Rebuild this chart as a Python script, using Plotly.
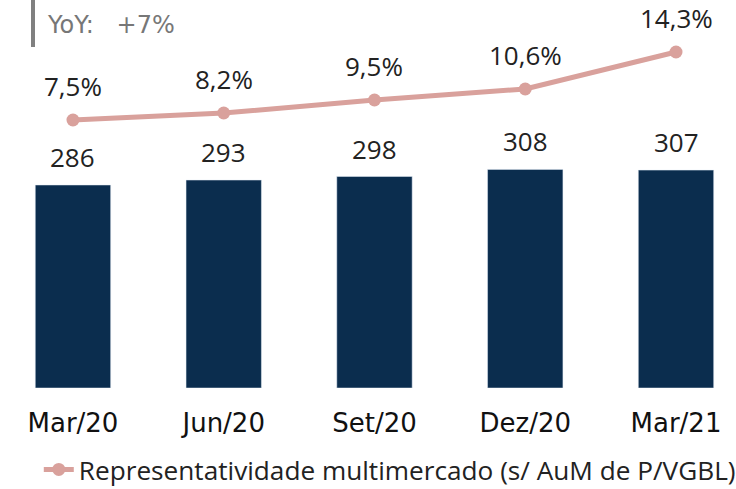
import plotly.graph_objects as go

categories = ["Mar/20", "Jun/20", "Set/20", "Dez/20", "Mar/21"]
aum_values = [286, 293, 298, 308, 307]
share_values = [7.5, 8.2, 9.5, 10.6, 14.3]
share_labels = ["7,5%", "8,2%", "9,5%", "10,6%", "14,3%"]
legend_name = "Representatividade multimercado (s/ AuM de P/VGBL)"
yoy_text = "YoY:\u00a0\u00a0\u00a0+7%"

BAR = "#0b2d4e"
LINE = "#d9a19c"
FONT = "Open Sans"

fig = go.Figure()
fig.add_trace(go.Bar(x=categories, y=aum_values, marker_color=BAR, width=0.5,
                     showlegend=False, hoverinfo="skip"))
fig.add_trace(go.Scatter(x=categories, y=share_values, yaxis="y2", mode="lines+markers",
                         line=dict(color=LINE, width=5), marker=dict(size=13, color=LINE),
                         name=legend_name))

for c, v in zip(categories, aum_values):
    fig.add_annotation(x=c, y=v, text=str(v), showarrow=False, yanchor="bottom",
                       yshift=8, font=dict(size=26, color="#222", family=FONT))
for c, v, t in zip(categories, share_values, share_labels):
    fig.add_annotation(x=c, y=v, yref="y2", text=t, showarrow=False, yanchor="bottom",
                       yshift=14, font=dict(size=26, color="#222", family=FONT))

fig.add_annotation(xref="paper", yref="paper", x=0.0611, y=0.9864, xanchor="left", yanchor="middle",
                   text=yoy_text, showarrow=False, font=dict(size=24, color="#777", family="DejaVu Sans"))
fig.add_shape(type="line", xref="paper", yref="paper", x0=0.0448, x1=0.0448, y0=0.9266, y1=1.06,
              line=dict(color="#808080", width=4))

fig.update_layout(
    width=736, height=489,
    margin=dict(l=0, r=0, t=20, b=101, autoexpand=False),
    paper_bgcolor="white", plot_bgcolor="white",
    xaxis=dict(domain=[0, 1], range=[-0.484, 4.398], showgrid=False, showline=False,
               zeroline=False, ticks="", ticklabelstandoff=17, automargin=False,
               tickfont=dict(size=26, color="#111", family="DejaVu Sans")),
    yaxis=dict(range=[0, 518.5], visible=False),
    yaxis2=dict(range=[-19.3, 17.5], overlaying="y", visible=False),
    legend=dict(orientation="h", xref="container", yref="container", x=0.0527, y=0.039,
                xanchor="left", yanchor="middle",
                font=dict(size=26.2, color="#222", family=FONT)),
)
fig.write_html("out.html", config={"displayModeBar": False},
               post_script="document.body.style.margin='0';document.body.style.overflow='hidden';")
